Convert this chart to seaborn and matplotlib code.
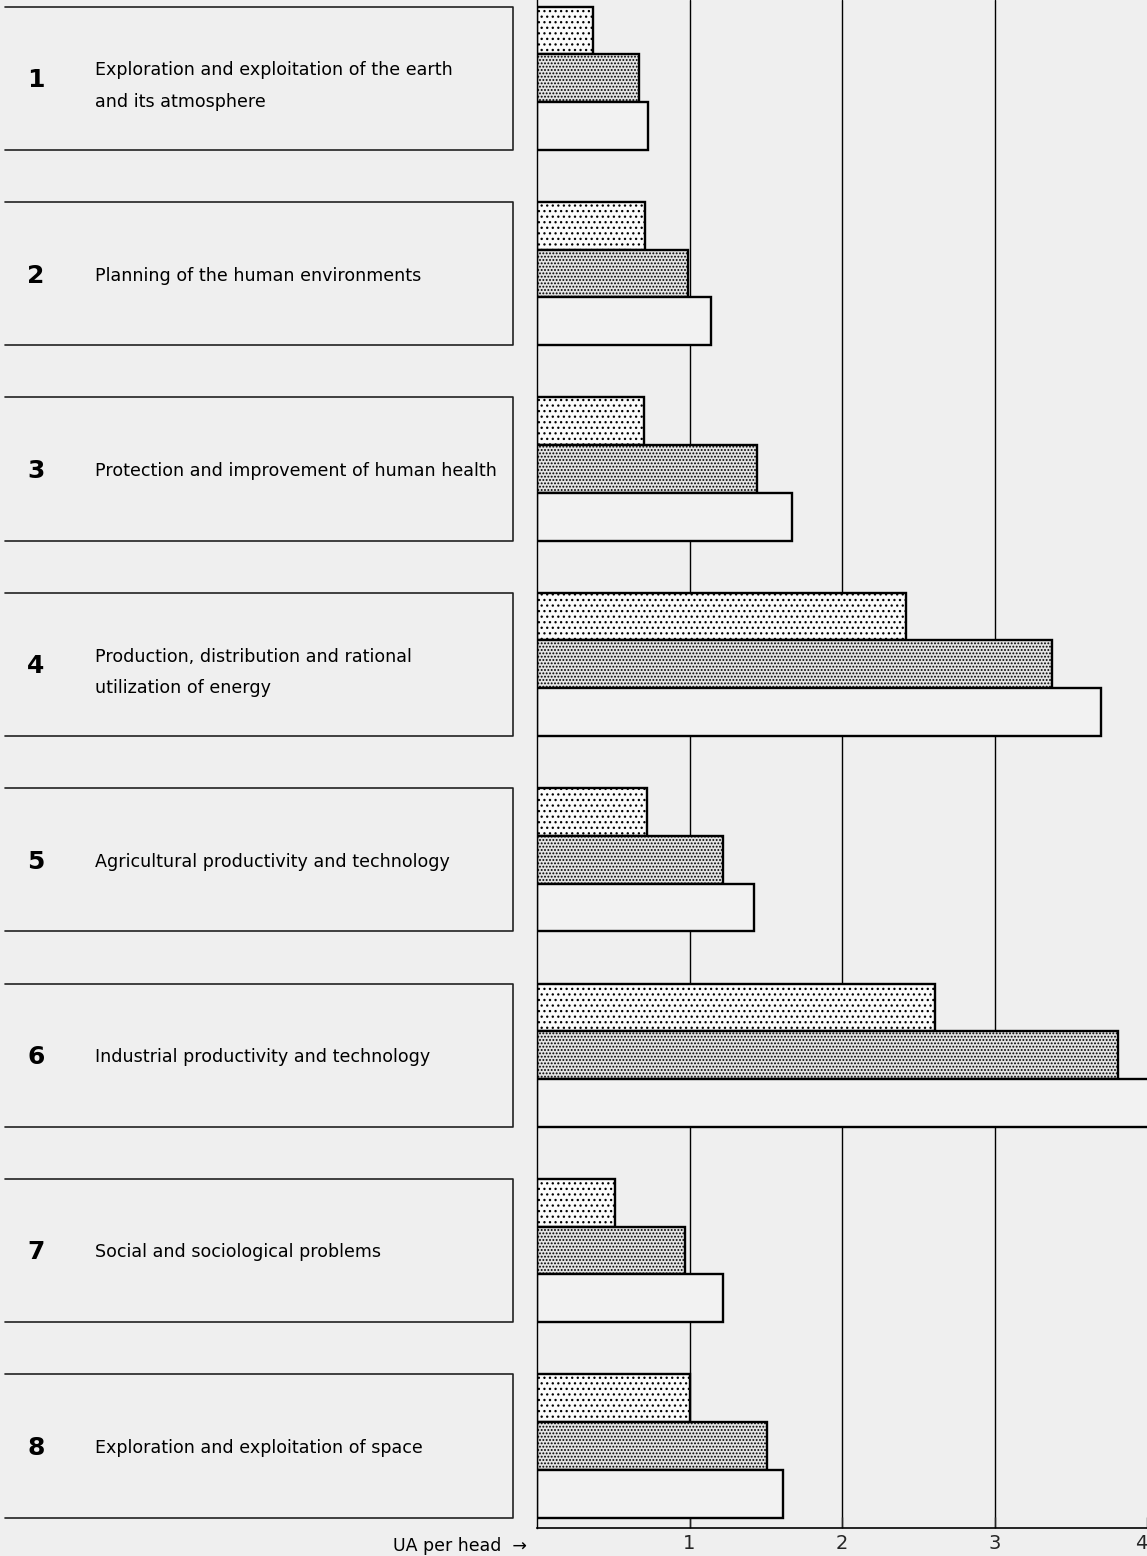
import numpy as np
import matplotlib
matplotlib.use("Agg")
import matplotlib.pyplot as plt
import pandas as pd
import seaborn as sns

# Category numbers and labels (left panel)
numbers = ["1", "2", "3", "4", "5", "6", "7", "8"]
labels = [
    "Exploration and exploitation of the earth\nand its atmosphere",
    "Planning of the human environments",
    "Protection and improvement of human health",
    "Production, distribution and rational\nutilization of energy",
    "Agricultural productivity and technology",
    "Industrial productivity and technology",
    "Social and sociological problems",
    "Exploration and exploitation of space",
]

# UA per head, three series per category (light dots, dense dots, plain)
series_names = ["light", "dense", "plain"]
light = [0.37, 0.71, 0.70, 2.42, 0.72, 2.61, 0.51, 1.00]
dense = [0.67, 0.99, 1.44, 3.38, 1.22, 3.81, 0.97, 1.51]
plain = [0.73, 1.14, 1.67, 3.70, 1.42, 4.10, 1.22, 1.61]

xticks = [1, 2, 3, 4]

bg = "#efefef"
sns.set_style("white")
plt.rcParams["font.family"] = ["DejaVu Sans"]
plt.rcParams["hatch.linewidth"] = 0.9

df = pd.DataFrame({
    "cat": numbers * 3,
    "series": [series_names[0]] * 8 + [series_names[1]] * 8 + [series_names[2]] * 8,
    "value": light + dense + plain,
})

W, H = 1147, 1556
fig = plt.figure(figsize=(W / 100, H / 100), dpi=100, facecolor=bg)

ax_bottom = 28 / H
ax_h = 1 - ax_bottom
ax = fig.add_axes([537 / W, ax_bottom, (W - 537) / W, ax_h])
axl = fig.add_axes([0, ax_bottom, 530 / W, ax_h])

ax.set_facecolor(bg)
axl.set_facecolor(bg)

group_w = 0.733
sns.barplot(data=df, y="cat", x="value", hue="series", orient="h", ax=ax,
            palette=["#fbfbfb", "#e4e4e4", "#f2f2f2"], edgecolor="black",
            linewidth=1.7, width=group_w, legend=False, gap=0)

hatches = ["...", ".....", ""]
for cont, h in zip(ax.containers, hatches):
    for p in cont.patches:
        p.set_hatch(h)

ax.set_xlim(0, 4)
ax.set_ylim(7.42, -0.40)
ax.set_xticks(xticks)
ax.set_xticklabels([str(t) for t in xticks], fontsize=14)
ax.get_xticklabels()[-1].set_ha("right")
ax.tick_params(axis="x", direction="in", length=8, width=1, pad=4, bottom=True)
ax.set_yticks([])
ax.set_ylabel("")
ax.set_xlabel("")
for t in xticks[:-1]:
    ax.axvline(t, color="black", lw=1, zorder=0)
for s in ["top", "right"]:
    ax.spines[s].set_visible(False)
ax.spines["left"].set_linewidth(1)
ax.spines["bottom"].set_linewidth(1.2)
ax.spines["left"].set_color("black")
ax.spines["bottom"].set_color("black")

# left panel with boxes
axl.set_xlim(0, 530)
axl.set_ylim(7.42, -0.40)
axl.axis("off")
half = group_w / 2
for i, (n, lab) in enumerate(zip(numbers, labels)):
    top, bot = i - half, i + half
    axl.plot([5, 513, 513, 5], [top, top, bot, bot], color="#222222", lw=1.2)
    axl.text(36, i + 0.01, n, ha="center", va="center", fontsize=18, fontweight="bold",
             color="black")
    shift = 0.04 if "\n" in lab else 0.01
    axl.text(95, i + shift, lab, ha="left", va="center", fontsize=12.6,
             linespacing=1.95, color="black")

fig.text(527 / W, 1 - 1546 / H, "UA per head  \u2192", ha="right", va="center",
         fontsize=12.5, color="black")

fig.savefig("out.png", dpi=100, facecolor=bg)
